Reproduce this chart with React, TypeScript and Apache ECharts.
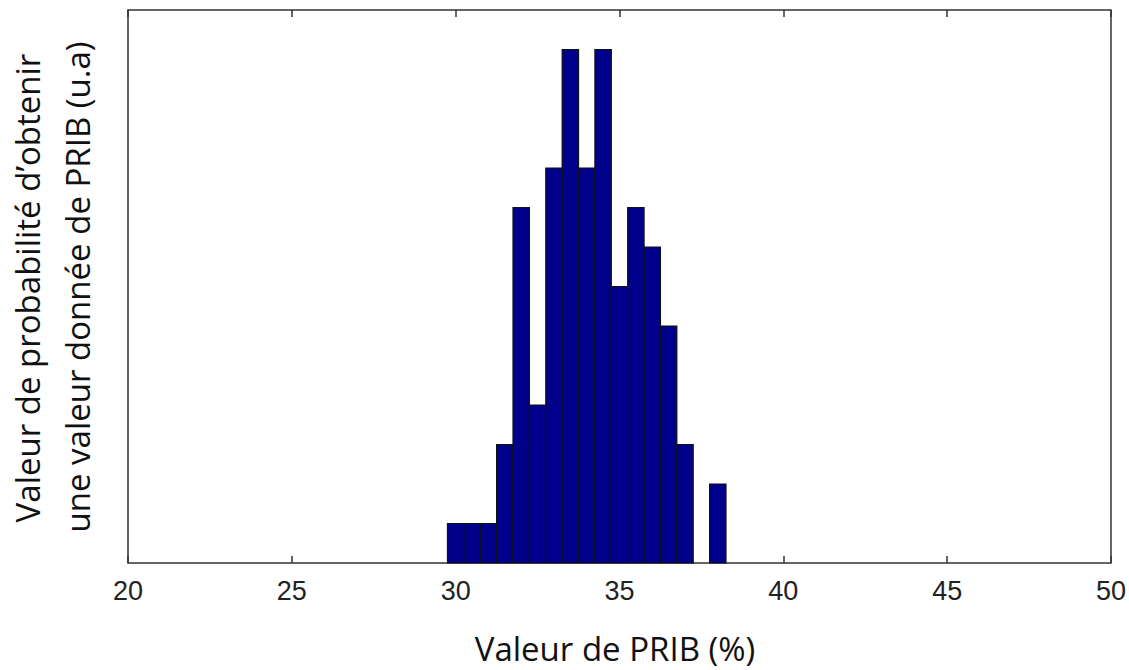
import React, { useEffect, useRef } from "react";
import * as echarts from "echarts";

const binCenters = [30, 30.5, 31, 31.5, 32, 32.5, 33, 33.5, 34, 34.5, 35, 35.5, 36, 36.5, 37, 37.5, 38];
const counts = [1, 1, 1, 3, 9, 4, 10, 13, 10, 13, 7, 9, 8, 6, 3, 0, 2];
const binWidth = 0.5;
const xMin = 20;
const xMax = 50;
const xStep = 5;
const yMax = 14;
const xTitle = "Valeur de PRIB (%)";
const yTitle1 = "Valeur de probabilité d’obtenir";
const yTitle2 = "une valeur donnée de PRIB (u.a)";

export default function App() {
  const ref = useRef<HTMLDivElement>(null);
  useEffect(() => {
    if (!ref.current) return;
    const chart = echarts.init(ref.current, undefined, { renderer: "svg" });
    const data = binCenters.map((c, i) => [c, counts[i]]);
    const titleFont = "Open Sans, sans-serif";
    chart.setOption({
      animation: false,
      backgroundColor: "#ffffff",
      grid: {
        left: 128,
        right: 17,
        top: 10,
        bottom: 107,
        show: true,
        borderColor: "#333333",
        borderWidth: 1.5,
        backgroundColor: "transparent",
      },
      xAxis: [
        {
          type: "value",
          min: xMin,
          max: xMax,
          interval: xStep,
          position: "bottom",
          axisLine: { show: false },
          axisTick: { show: true, inside: true, length: 7, lineStyle: { color: "#333", width: 1.5 } },
          splitLine: { show: false },
          axisLabel: {
            color: "#222",
            fontSize: 27,
            fontFamily: "Liberation Sans, Arial, sans-serif",
            margin: 14,
          },
        },
        {
          type: "value",
          min: xMin,
          max: xMax,
          interval: xStep,
          position: "top",
          axisLine: { show: false },
          axisTick: { show: true, inside: true, length: 7, lineStyle: { color: "#333", width: 1.5 } },
          splitLine: { show: false },
          axisLabel: { show: false },
        },
      ],
      yAxis: {
        type: "value",
        min: 0,
        max: yMax,
        axisLine: { show: false },
        axisTick: { show: false },
        axisLabel: { show: false },
        splitLine: { show: false },
      },
      series: [
        {
          type: "custom",
          xAxisIndex: 0,
          data,
          renderItem: (params: any, api: any) => {
            const x = api.value(0);
            const y = api.value(1);
            if (!y) return null;
            const p0 = api.coord([x - binWidth / 2, 0]);
            const p1 = api.coord([x + binWidth / 2, y]);
            return {
              type: "rect",
              shape: { x: p0[0], y: p1[1], width: p1[0] - p0[0], height: p0[1] - p1[1] },
              style: { fill: "#00008B", stroke: "#111111", lineWidth: 1.2 },
            };
          },
        },
      ],
      graphic: [
        {
          type: "text",
          x: 615,
          y: 648,
          style: {
            text: xTitle,
            align: "center",
            verticalAlign: "middle",
            fontSize: 33,
            fontFamily: titleFont,
            fill: "#111",
          },
        },
        {
          type: "text",
          x: 27,
          y: 288,
          rotation: Math.PI / 2,
          style: {
            text: yTitle1,
            align: "center",
            verticalAlign: "middle",
            fontSize: 33,
            fontFamily: titleFont,
            fill: "#111",
          },
        },
        {
          type: "text",
          x: 77,
          y: 287,
          rotation: Math.PI / 2,
          style: {
            text: yTitle2,
            align: "center",
            verticalAlign: "middle",
            fontSize: 33,
            fontFamily: titleFont,
            fill: "#111",
          },
        },
      ],
    });
    return () => chart.dispose();
  }, []);
  return (
    <div
      ref={ref}
      style={{ position: "absolute", left: 0, top: 0, width: 1129, height: 670 }}
    />
  );
}
